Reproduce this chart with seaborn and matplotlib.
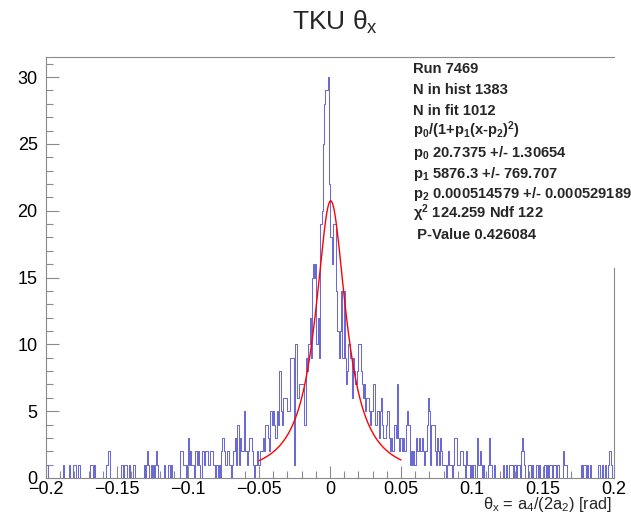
import numpy as np
import pandas as pd
import matplotlib
matplotlib.use('Agg')
import matplotlib.pyplot as plt
import seaborn as sns
from matplotlib.ticker import MultipleLocator

sns.set_theme(style='ticks')
plt.rcParams['font.family'] = ['Liberation Sans', 'DejaVu Sans']
plt.rcParams['mathtext.fontset'] = 'custom'
plt.rcParams['mathtext.rm'] = 'Liberation Sans'
plt.rcParams['mathtext.it'] = 'Liberation Sans:italic'
plt.rcParams['mathtext.bf'] = 'Liberation Sans:bold'

# ---------------- data ----------------
x_min, x_max, n_bins = -0.2, 0.2, 500
counts = [
    # -0.200 .. -0.180
    1, 1, 0, 0, 0, 0, 0, 0, 0, 0, 0, 0, 0, 0, 0, 1, 0, 0, 0, 0, 1, 0, 0, 0, 1,
    # -0.180 .. -0.160
    1, 0, 0, 1, 1, 0, 0, 0, 0, 0, 0, 0, 0, 0, 1, 1, 0, 1, 0, 0, 0, 0, 0, 0, 0,
    # -0.160 .. -0.140
    0, 0, 0, 1, 1, 2, 0, 0, 0, 0, 0, 0, 0, 0, 0, 0, 1, 1, 0, 1, 1, 0, 0, 1, 0,
    # -0.140 .. -0.120
    0, 0, 1, 0, 0, 0, 0, 0, 0, 0, 0, 1, 0, 1, 2, 1, 0, 1, 0, 1, 0, 1, 2, 1, 0,
    # -0.120 .. -0.100
    0, 0, 0, 0, 1, 0, 0, 1, 1, 0, 1, 0, 0, 0, 0, 0, 0, 0, 2, 2, 2, 1, 1, 0, 1,
    # -0.100 .. -0.080
    3, 1, 2, 1, 1, 0, 2, 2, 1, 2, 1, 0, 2, 2, 1, 2, 2, 2, 1, 2, 2, 2, 1, 1, 0,
    # -0.080 .. -0.060
    1, 0, 1, 0, 2, 3, 3, 2, 1, 2, 2, 1, 1, 0, 1, 2, 3, 1, 4, 4, 1, 3, 2, 2, 5,
    # -0.060 .. -0.040
    2, 2, 1, 2, 3, 3, 2, 1, 0, 1, 1, 2, 1, 2, 2, 2, 3, 2, 4, 4, 3, 2, 5, 5, 4,
    # -0.040 .. -0.020
    5, 4, 3, 5, 4, 8, 8, 5, 4, 6, 6, 6, 5, 5, 5, 9, 9, 9, 1, 10, 10, 6, 6, 7, 7,
    # -0.020 .. 0.000
    7, 7, 4, 4, 9, 8, 10, 12, 9, 15, 16, 15, 16, 10, 12, 9, 19, 19, 20, 25, 28, 29, 29, 30, 22,
    # 0.000 .. 0.020
    18, 18, 16, 19, 19, 14, 11, 11, 9, 11, 14, 9, 14, 9, 7, 8, 10, 10, 9, 6, 9, 8, 7, 7, 8,
    # 0.020 .. 0.040
    10, 10, 8, 7, 6, 7, 5, 6, 6, 5, 4, 5, 5, 7, 7, 4, 5, 5, 3, 5, 6, 4, 3, 3, 4,
    # 0.040 .. 0.060
    5, 5, 3, 2, 3, 2, 4, 4, 3, 7, 3, 2, 3, 2, 3, 2, 2, 4, 5, 4, 1, 2, 1, 2, 1,
    # 0.060 .. 0.080
    1, 3, 2, 3, 2, 2, 3, 2, 1, 2, 4, 6, 5, 1, 4, 4, 4, 2, 1, 3, 2, 1, 3, 2, 1,
    # 0.080 .. 0.100
    1, 1, 0, 1, 2, 1, 1, 0, 1, 3, 3, 3, 1, 1, 2, 2, 2, 1, 1, 0, 2, 1, 1, 0, 1,
    # 0.100 .. 0.120
    0, 1, 1, 0, 3, 1, 1, 2, 1, 0, 1, 0, 0, 0, 1, 3, 1, 1, 0, 1, 0, 0, 0, 0, 0,
    # 0.120 .. 0.140
    0, 0, 1, 0, 0, 1, 0, 0, 1, 1, 1, 0, 1, 1, 0, 1, 1, 0, 2, 3, 2, 1, 0, 0, 1,
    # 0.140 .. 0.160
    1, 1, 0, 1, 0, 0, 1, 1, 0, 1, 0, 0, 0, 1, 1, 0, 1, 0, 1, 1, 0, 1, 1, 1, 0,
    # 0.160 .. 0.180
    1, 1, 0, 0, 0, 2, 1, 1, 1, 0, 0, 0, 0, 0, 0, 0, 0, 0, 0, 0, 0, 1, 0, 1, 1,
    # 0.180 .. 0.200
    0, 1, 0, 0, 1, 0, 0, 0, 0, 0, 0, 1, 1, 0, 1, 0, 0, 1, 0, 0, 1, 2, 1, 0, 0,
]

# Fit: p0/(1+p1(x-p2)^2)
p0, p1, p2 = 20.7375, 5876.3, 0.000514579
fit_lo, fit_hi = -0.05, 0.05

title = "TKU θ$_{\\mathregular{x}}$"
xlabel = "θ$_{\\mathregular{x}}$ = a$_{\\mathregular{4}}$/(2a$_{\\mathregular{2}}$) [rad]"
stats_lines = [
    "Run 7469",
    "N in hist 1383",
    "N in fit 1012",
    "p$_{\\mathbf{0}}$/(1+p$_{\\mathbf{1}}$(x-p$_{\\mathbf{2}}$)$^{\\mathbf{2}}$)",
    "p$_{\\mathbf{0}}$ 20.7375 +/- 1.30654",
    "p$_{\\mathbf{1}}$ 5876.3 +/- 769.707",
    "p$_{\\mathbf{2}}$ 0.000514579 +/- 0.000529189",
    "χ$^{\\mathbf{2}}$ 124.259 Ndf 122",
    " P-Value 0.426084",
]

# ---------------- plot ----------------
W, H = 631, 516
edges = np.linspace(x_min, x_max, n_bins + 1)
centers = 0.5 * (edges[:-1] + edges[1:])
df = pd.DataFrame({'theta_x': centers, 'count': np.asarray(counts, dtype=float)})

fig = plt.figure(figsize=(W / 100, H / 100), dpi=100)
ax = fig.add_axes([46 / W, 1 - 478 / H, (614 - 46) / W, (478 - 57) / H])

sns.histplot(data=df, x='theta_x', weights='count', bins=n_bins,
             binrange=(x_min, x_max),
             element='step', fill=False, color='#6a6ad2', linewidth=0.75, ax=ax)

xf = np.linspace(fit_lo, fit_hi, 400)
fit_df = pd.DataFrame({'x': xf, 'y': p0 / (1 + p1 * (xf - p2) ** 2)})
sns.lineplot(data=fit_df, x='x', y='y', color='#ff0000', linewidth=1.0, ax=ax)

ax.set_xlim(x_min, x_max)
ax.set_ylim(0, 31.5)
ax.set_xlabel('')
ax.set_ylabel('')

ax.xaxis.set_major_locator(MultipleLocator(0.05))
ax.xaxis.set_minor_locator(MultipleLocator(0.01))
ax.yaxis.set_major_locator(MultipleLocator(5))
ax.yaxis.set_minor_locator(MultipleLocator(1))
ax.set_xticks([-0.2, -0.15, -0.1, -0.05, 0, 0.05, 0.1, 0.15, 0.2])
ax.set_xticklabels(['−0.2', '−0.15', '−0.1', '−0.05', '0', '0.05', '0.1', '0.15', '0.2'])

spine_col = '#8a8a8a'
ax.tick_params(axis='both', which='major', direction='in', length=9, width=0.8,
               color=spine_col, labelsize=13, labelcolor='black')
ax.tick_params(axis='both', which='minor', direction='in', length=5, width=0.8,
               color=spine_col)
ax.tick_params(axis='x', which='major', pad=2.5)
ax.tick_params(axis='y', which='major', pad=6)
for s in ax.spines.values():
    s.set_color(spine_col)
    s.set_linewidth(0.8)
ax.spines['right'].set_bounds(0, 15.7)

fig.text(335 / W, 1 - 30 / H, title, ha='center', va='baseline', fontsize=19)
fig.text(612 / W, 1 - 509 / H, xlabel, ha='right', va='baseline', fontsize=11.8)

baselines = [73.3, 94, 114.7, 135, 156.7, 177.7, 197.7, 218.3, 239]
for line, yb in zip(stats_lines, baselines):
    fig.text(413 / W, 1 - yb / H, line, ha='left', va='baseline',
             fontsize=10.6, fontweight='bold')

fig.savefig('out.png', dpi=100)
